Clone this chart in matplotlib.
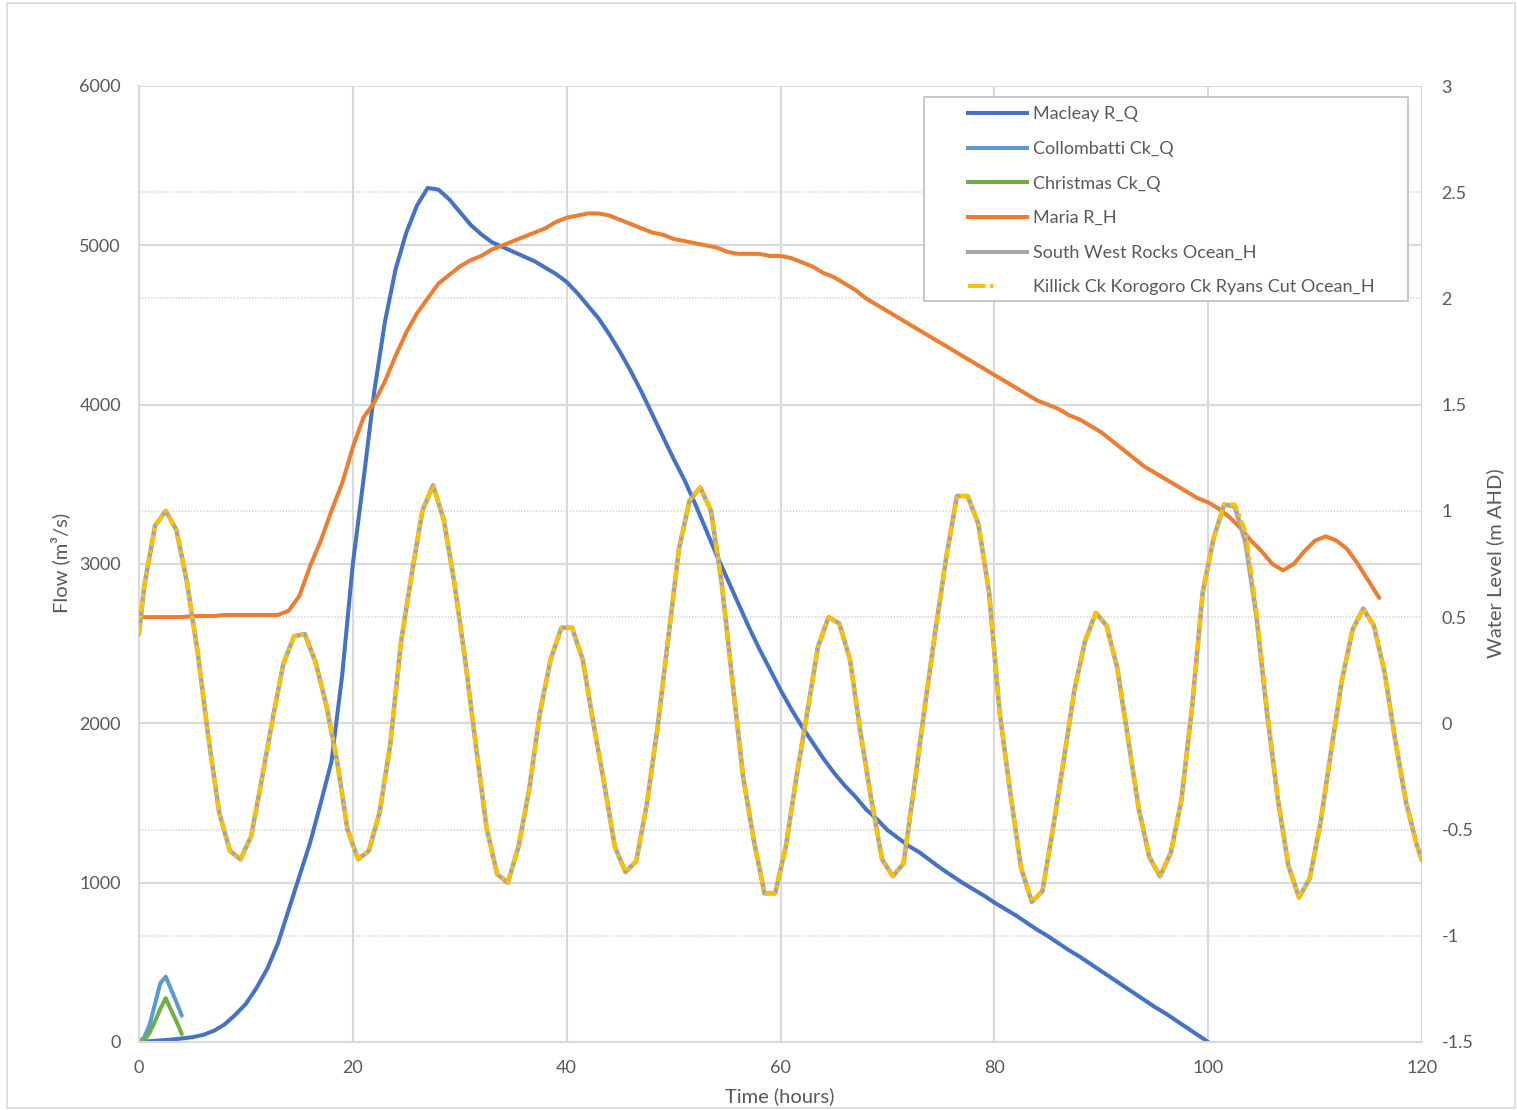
import matplotlib
matplotlib.use("Agg")
import numpy as np
import matplotlib.pyplot as plt
from matplotlib.ticker import FixedLocator
from matplotlib.lines import Line2D
from matplotlib.patches import Rectangle
from matplotlib.legend_handler import HandlerLine2D

# ---------------- data ----------------
hours_tide = [0] + [k + 0.5 for k in range(120)] + [120]
south_west_rocks_h = [
    0.42,
    0.65, 0.93, 1.00, 0.91, 0.66, 0.33, -0.07, -0.42, -0.60, -0.64,
    -0.53, -0.26, 0.02, 0.28, 0.41, 0.42, 0.29, 0.09, -0.17, -0.50,
    -0.64, -0.60, -0.42, -0.10, 0.38, 0.70, 1.00, 1.12, 0.96, 0.66,
    0.30, -0.10, -0.49, -0.71, -0.75, -0.58, -0.31, 0.05, 0.30, 0.45,
    0.45, 0.30, 0.00, -0.28, -0.58, -0.70, -0.65, -0.38, -0.02, 0.40,
    0.82, 1.05, 1.11, 1.00, 0.66, 0.20, -0.25, -0.55, -0.80, -0.80,
    -0.58, -0.25, 0.05, 0.36, 0.50, 0.47, 0.30, -0.05, -0.36, -0.64,
    -0.72, -0.66, -0.30, 0.08, 0.44, 0.78, 1.07, 1.07, 0.94, 0.62,
    0.05, -0.33, -0.68, -0.84, -0.79, -0.49, -0.17, 0.16, 0.39, 0.52,
    0.46, 0.26, -0.07, -0.40, -0.63, -0.72, -0.61, -0.36, 0.08, 0.62,
    0.87, 1.03, 1.02, 0.85, 0.51, 0.05, -0.35, -0.67, -0.82, -0.73,
    -0.47, -0.13, 0.20, 0.44, 0.54, 0.46, 0.24, -0.08, -0.37, -0.57,
    -0.645,
]
killick_korogoro_ryans_h = [
    0.42,
    0.65, 0.93, 1.00, 0.91, 0.66, 0.33, -0.07, -0.42, -0.60, -0.64,
    -0.53, -0.26, 0.02, 0.28, 0.41, 0.42, 0.29, 0.09, -0.17, -0.50,
    -0.64, -0.60, -0.42, -0.10, 0.38, 0.70, 1.00, 1.12, 0.96, 0.66,
    0.30, -0.10, -0.49, -0.71, -0.75, -0.58, -0.31, 0.05, 0.30, 0.45,
    0.45, 0.30, 0.00, -0.28, -0.58, -0.70, -0.65, -0.38, -0.02, 0.40,
    0.82, 1.05, 1.11, 1.00, 0.66, 0.20, -0.25, -0.55, -0.80, -0.80,
    -0.58, -0.25, 0.05, 0.36, 0.50, 0.47, 0.30, -0.05, -0.36, -0.64,
    -0.72, -0.66, -0.30, 0.08, 0.44, 0.78, 1.07, 1.07, 0.94, 0.62,
    0.05, -0.33, -0.68, -0.84, -0.79, -0.49, -0.17, 0.16, 0.39, 0.52,
    0.46, 0.26, -0.07, -0.40, -0.63, -0.72, -0.61, -0.36, 0.08, 0.62,
    0.87, 1.03, 1.03, 0.90, 0.53, 0.07, -0.35, -0.67, -0.82, -0.73,
    -0.47, -0.13, 0.20, 0.44, 0.54, 0.46, 0.24, -0.08, -0.37, -0.57,
    -0.645,
]

hours_macleay = list(range(0, 101))
macleay_q = [
    0, 5, 10, 15, 22, 30, 45, 70, 110, 170,
    240, 340, 460, 620, 830, 1040, 1250, 1500, 1760, 2300,
    3000, 3530, 4080, 4520, 4850, 5080, 5250, 5360, 5350, 5290,
    5210, 5130, 5070, 5020, 4990, 4960, 4930, 4900, 4860, 4820,
    4770, 4700, 4620, 4540, 4440, 4330, 4210, 4080, 3940, 3800,
    3660, 3530, 3380, 3220, 3060, 2910, 2760, 2610, 2470, 2340,
    2210, 2090, 1980, 1880, 1780, 1690, 1610, 1540, 1460, 1400,
    1330, 1280, 1230, 1190, 1140, 1090, 1045, 1000, 960, 920,
    875, 835, 795, 750, 705, 665, 620, 575, 535, 490,
    445, 400, 355, 310, 265, 220, 180, 135, 90, 45,
    0,
]

hours_creeks = [0, 0.5, 1, 1.5, 2, 2.5, 3, 3.5, 4]
collombatti_q = [0, 30, 110, 240, 370, 410, 330, 250, 165]
christmas_q = [0, 10, 60, 130, 210, 275, 200, 130, 50]

hours_maria = list(range(0, 117))
maria_h = [
    0.50, 0.50, 0.50, 0.50, 0.50, 0.505, 0.505, 0.505, 0.51, 0.51,
    0.51, 0.51, 0.51, 0.51, 0.53, 0.60, 0.74, 0.86, 1.00, 1.13,
    1.30, 1.44, 1.51, 1.61, 1.73, 1.84, 1.93, 2.00, 2.07, 2.11,
    2.15, 2.18, 2.20, 2.23, 2.25, 2.27, 2.29, 2.31, 2.33, 2.36,
    2.38, 2.39, 2.40, 2.40, 2.39, 2.37, 2.35, 2.33, 2.31, 2.30,
    2.28, 2.27, 2.26, 2.25, 2.24, 2.22, 2.21, 2.21, 2.21, 2.20,
    2.20, 2.19, 2.17, 2.15, 2.12, 2.10, 2.07, 2.04, 2.00, 1.97,
    1.94, 1.91, 1.88, 1.85, 1.82, 1.79, 1.76, 1.73, 1.70, 1.67,
    1.64, 1.61, 1.58, 1.55, 1.52, 1.50, 1.48, 1.45, 1.43, 1.40,
    1.37, 1.33, 1.29, 1.25, 1.21, 1.18, 1.15, 1.12, 1.09, 1.06,
    1.04, 1.01, 0.97, 0.92, 0.86, 0.81, 0.75, 0.72, 0.75, 0.81,
    0.86, 0.88, 0.86, 0.82, 0.75, 0.67, 0.59,
]

x_ticks = [0, 20, 40, 60, 80, 100, 120]
flow_ticks = [0, 1000, 2000, 3000, 4000, 5000, 6000]
level_ticks = [-1.5, -1, -0.5, 0, 0.5, 1, 1.5, 2, 2.5, 3]
level_tick_labels = ['-1.5', '-1', '-0.5', '0', '0.5', '1', '1.5', '2', '2.5', '3']
level_dotted = [-1, -0.5, 0.5, 1, 2, 2.5]

labels = ['Macleay R_Q', 'Collombatti Ck_Q', 'Christmas Ck_Q', 'Maria R_H',
          'South West Rocks Ocean_H', 'Killick Ck Korogoro Ck Ryans Cut Ocean_H']
colors = ['#4472C4', '#5B9BD5', '#70AD47', '#ED7D31', '#A5A5A5', '#FFC000']

# ---------------- style ----------------
plt.rcParams['font.family'] = ['Lato', 'DejaVu Sans']
plt.rcParams['lines.scale_dashes'] = False
TXT = '#595959'
GRID = '#D9D9D9'
FS = 13
FS_TITLE = 14.5

W, H = 1517, 1110
fig = plt.figure(figsize=(W / 100, H / 100), dpi=100)
fig.patches.append(Rectangle((7 / W, 2 / H), 1508 / W, 1105 / H, transform=fig.transFigure,
                             fill=False, edgecolor=GRID, linewidth=1.2, zorder=-1))

ax1 = fig.add_axes([139 / W, 68 / H, 1283 / W, 956 / H])
ax2 = ax1.twinx()

ax1.set_xlim(0, 120)
ax1.set_ylim(0, 6000)
ax2.set_ylim(-1.5, 3)

ax1.set_xticks(x_ticks)
ax1.set_yticks(flow_ticks)
ax2.set_yticks(level_ticks)
ax2.set_yticklabels(level_tick_labels)

# dotted gridlines of the secondary axis, drawn under the data
y0, y1 = ax1.get_ylim()
l0, l1 = ax2.get_ylim()
ax1.yaxis.set_minor_locator(FixedLocator([y0 + (v - l0) * (y1 - y0) / (l1 - l0) for v in level_dotted]))
ax1.set_axisbelow(True)
ax1.grid(True, which='major', color=GRID, linewidth=1.5)
ax1.grid(True, which='minor', axis='y', color=GRID, linewidth=1.3, linestyle=(0, (1, 1.2)))

for ax in (ax1, ax2):
    for s in ax.spines.values():
        s.set_visible(False)
    ax.tick_params(which='both', length=0, labelsize=FS, labelcolor=TXT, pad=13)
ax2.tick_params(axis='y', pad=14)
for side in ('left', 'bottom'):
    ax1.spines[side].set_visible(True)
    ax1.spines[side].set_color(GRID)
    ax1.spines[side].set_linewidth(1.5)
ax2.patch.set_visible(False)

LW = 2.9
KDASH = (8.0, 2.8, 2.4, 2.8)
h1, = ax1.plot(hours_macleay, macleay_q, color=colors[0], lw=LW, solid_capstyle='round', label=labels[0])
h2, = ax1.plot(hours_creeks, collombatti_q, color=colors[1], lw=LW, solid_capstyle='round', label=labels[1])
h3, = ax1.plot(hours_creeks, christmas_q, color=colors[2], lw=LW, solid_capstyle='round', label=labels[2])
h4, = ax2.plot(hours_maria, maria_h, color=colors[3], lw=LW, solid_capstyle='round', label=labels[3])
h5, = ax2.plot(hours_tide, south_west_rocks_h, color=colors[4], lw=3.3, solid_capstyle='round',
               solid_joinstyle='round', label=labels[4])
h6, = ax2.plot(hours_tide, killick_korogoro_ryans_h, color=colors[5], lw=3.0,
               dashes=KDASH, label=labels[5])

# legend
class ShiftedLine(HandlerLine2D):
    def get_xdata(self, legend, xdescent, ydescent, width, height, fontsize):
        x0 = -xdescent + 0.385 * width
        x1 = -xdescent + width
        return np.array([x0, x1]), np.array([(x0 + x1) / 2])

leg_handles = [Line2D([], [], color=colors[i], lw=LW) for i in range(5)]
leg_handles.append(Line2D([], [], color=colors[5], lw=LW, dashes=(12.5, 3.4, 2.2, 40)))

fig.patches.append(Rectangle((924 / W, 1 - 301 / H), 484 / W, 204 / H, transform=fig.transFigure,
                             facecolor='white', edgecolor='#BFBFBF', linewidth=1.2, zorder=3))
leg = fig.legend(handles=leg_handles, labels=labels, loc='upper left',
                 bbox_to_anchor=(931 / W, 1 - 106.5 / H), bbox_transform=fig.transFigure,
                 fontsize=FS, frameon=False, handlelength=5.32, handletextpad=0.33,
                 labelspacing=1.03, borderpad=0, borderaxespad=0,
                 handler_map={Line2D: ShiftedLine()})
for t in leg.get_texts():
    t.set_color(TXT)
leg.set_zorder(5)

fig.text(60 / W, 1 - 563 / H, 'Flow (m³/s)', rotation=90, ha='center', va='center', fontsize=FS_TITLE, color=TXT)
fig.text(1495 / W, 1 - 563 / H, 'Water Level (m AHD)', rotation=90, ha='center', va='center', fontsize=FS_TITLE, color=TXT)
fig.text(780 / W, 1 - 1096 / H, 'Time (hours)', ha='center', va='center', fontsize=FS_TITLE, color=TXT)

fig.savefig('out.png', dpi=100, facecolor='white')
